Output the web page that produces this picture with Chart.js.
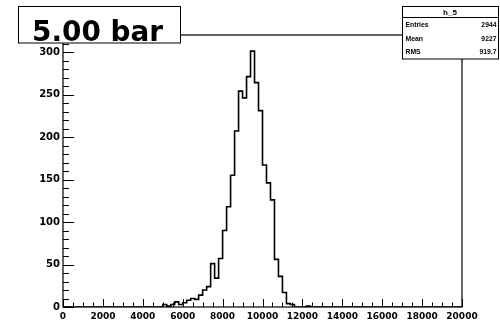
<!DOCTYPE html>
<html>
<head>
<meta charset="utf-8">
<script src="https://cdn.jsdelivr.net/npm/chart.js@4/dist/chart.umd.min.js"></script>
<style>
  html, body { margin: 0; padding: 0; background: #fff; }
  #wrap { width: 500px; height: 324px; position: relative; }
</style>
</head>
<body>
<div id="wrap"><canvas id="c" width="500" height="324"></canvas></div>
<script>
// ---- data (bins of 200, range 0..20000) ----
const xMin = 0;
const xMax = 20000;
const binWidth = 200;
const counts = [
  0,0,0,0,0,0,0,0,0,0,        // 0 - 1800
  0,0,0,0,0,0,0,0,0,0,        // 2000 - 3800
  0,0,0,0,0,3,1,3,6,3,        // 4000 - 5800
  5,8,10,9,14,20,24,51,34,57, // 6000 - 7800
  90,118,155,207,254,246,271,301,264,231, // 8000 - 9800
  167,146,126,56,36,17,4,3,0,0, // 10000 - 11800
  0,1,0,0,0,0,0,0,0,0,        // 12000 - 13800
  0,0,0,0,0,0,0,0,0,0,        // 14000 - 15800
  0,0,0,0,0,0,0,0,0,0,        // 16000 - 17800
  0,0,0,0,0,0,0,0,0,0         // 18000 - 19800
];
const xTickStep = 2000;
const xMinorStep = 500;
const yMax = 320;
const yTickStep = 50;
const yMinorStep = 10;
const titleText = '5.00 bar';
const statsName = 'h_5';
const statsLabels = ['Entries', 'Mean', 'RMS'];
const statsValues = ['2944', '9227', '919.7'];

const points = counts.map((c, i) => ({ x: xMin + i * binWidth, y: c }));
points.push({ x: xMax, y: 0 });

function scaledText(ctx, text, x, y, sx, align) {
  ctx.save();
  ctx.translate(x, y);
  ctx.scale(sx, 1);
  ctx.textAlign = align;
  ctx.fillText(text, 0, 0);
  ctx.restore();
}

const framePlugin = {
  id: 'frame',
  afterDatasetsDraw(chart) {
    const ctx = chart.ctx;
    const a = chart.chartArea;
    const xs = chart.scales.x, ys = chart.scales.y;
    ctx.save();
    ctx.strokeStyle = '#000';
    ctx.lineWidth = 1.2;
    ctx.strokeRect(a.left, a.top, a.right - a.left, a.bottom - a.top);
    ctx.lineWidth = 1;
    ctx.beginPath();
    for (let v = xMin; v <= xMax; v += xMinorStep) {
      const px = Math.round(xs.getPixelForValue(v)) + 0.5;
      const len = (v % xTickStep === 0) ? 8 : 4.5;
      ctx.moveTo(px, a.bottom);
      ctx.lineTo(px, a.bottom - len);
    }
    for (let v = 0; v <= yMax; v += yMinorStep) {
      const py = Math.round(ys.getPixelForValue(v)) + 0.5;
      const len = (v % yTickStep === 0) ? 11 : 6;
      ctx.moveTo(a.left, py);
      ctx.lineTo(a.left + len, py);
    }
    ctx.stroke();
    ctx.restore();
  },
  afterDraw(chart) {
    const ctx = chart.ctx;
    ctx.save();
    ctx.fillStyle = '#000';
    ctx.strokeStyle = '#000';
    ctx.lineWidth = 1;
    // title box
    ctx.fillStyle = '#fff';
    ctx.fillRect(18.5, 6.5, 162, 36.5);
    ctx.strokeRect(18.5, 6.5, 162, 36.5);
    ctx.fillStyle = '#000';
    ctx.font = 'bold 28px "DejaVu Sans"';
    ctx.textBaseline = 'alphabetic';
    const tw = ctx.measureText(titleText).width;
    scaledText(ctx, titleText, 32, 40.5, 131 / tw, 'left');
    // stats box
    ctx.fillStyle = '#fff';
    ctx.fillRect(402.5, 6.5, 96, 52.5);
    ctx.strokeRect(402.5, 6.5, 96, 52.5);
    ctx.beginPath();
    ctx.moveTo(402.5, 17.5);
    ctx.lineTo(498.5, 17.5);
    ctx.stroke();
    ctx.fillStyle = '#000';
    ctx.font = 'bold 8px "Liberation Sans"';
    ctx.textBaseline = 'middle';
    scaledText(ctx, statsName, 450, 12.3, 1.0, 'center');
    const rowsY = [25, 38.5, 51.5];
    statsLabels.forEach((l, i) => {
      scaledText(ctx, l, 405.5, rowsY[i], 0.85, 'left');
      scaledText(ctx, statsValues[i], 496.5, rowsY[i], 0.85, 'right');
    });
    ctx.restore();
  }
};

new Chart(document.getElementById('c'), {
  type: 'line',
  data: {
    datasets: [{
      data: points,
      stepped: 'before',
      borderColor: '#000',
      borderWidth: 1.6,
      pointRadius: 0,
      fill: false,
      tension: 0
    }]
  },
  options: {
    responsive: false,
    animation: false,
    devicePixelRatio: 1,
    layout: { padding: { left: 0, right: 38, top: 35, bottom: 0 } },
    plugins: { legend: { display: false }, tooltip: { enabled: false }, title: { display: false } },
    scales: {
      x: {
        type: 'linear',
        min: xMin,
        max: xMax,
        grid: { display: false, drawTicks: false },
        border: { display: false },
        ticks: {
          stepSize: xTickStep,
          autoSkip: false,
          maxRotation: 0,
          includeBounds: false,
          padding: 4,
          color: '#000',
          font: { family: 'DejaVu Sans', weight: 'bold', size: 9 },
          callback: (v) => String(v)
        },
        afterFit(s) { s.height = 17; }
      },
      y: {
        min: 0,
        max: yMax,
        grid: { display: false, drawTicks: false },
        border: { display: false },
        ticks: {
          stepSize: yTickStep,
          includeBounds: false,
          padding: 3,
          color: '#000',
          font: { family: 'DejaVu Sans', weight: 'bold', size: 10 },
          callback: (v) => String(v)
        },
        afterFit(s) { s.width = 63; }
      }
    }
  },
  plugins: [framePlugin]
});
</script>
</body>
</html>
